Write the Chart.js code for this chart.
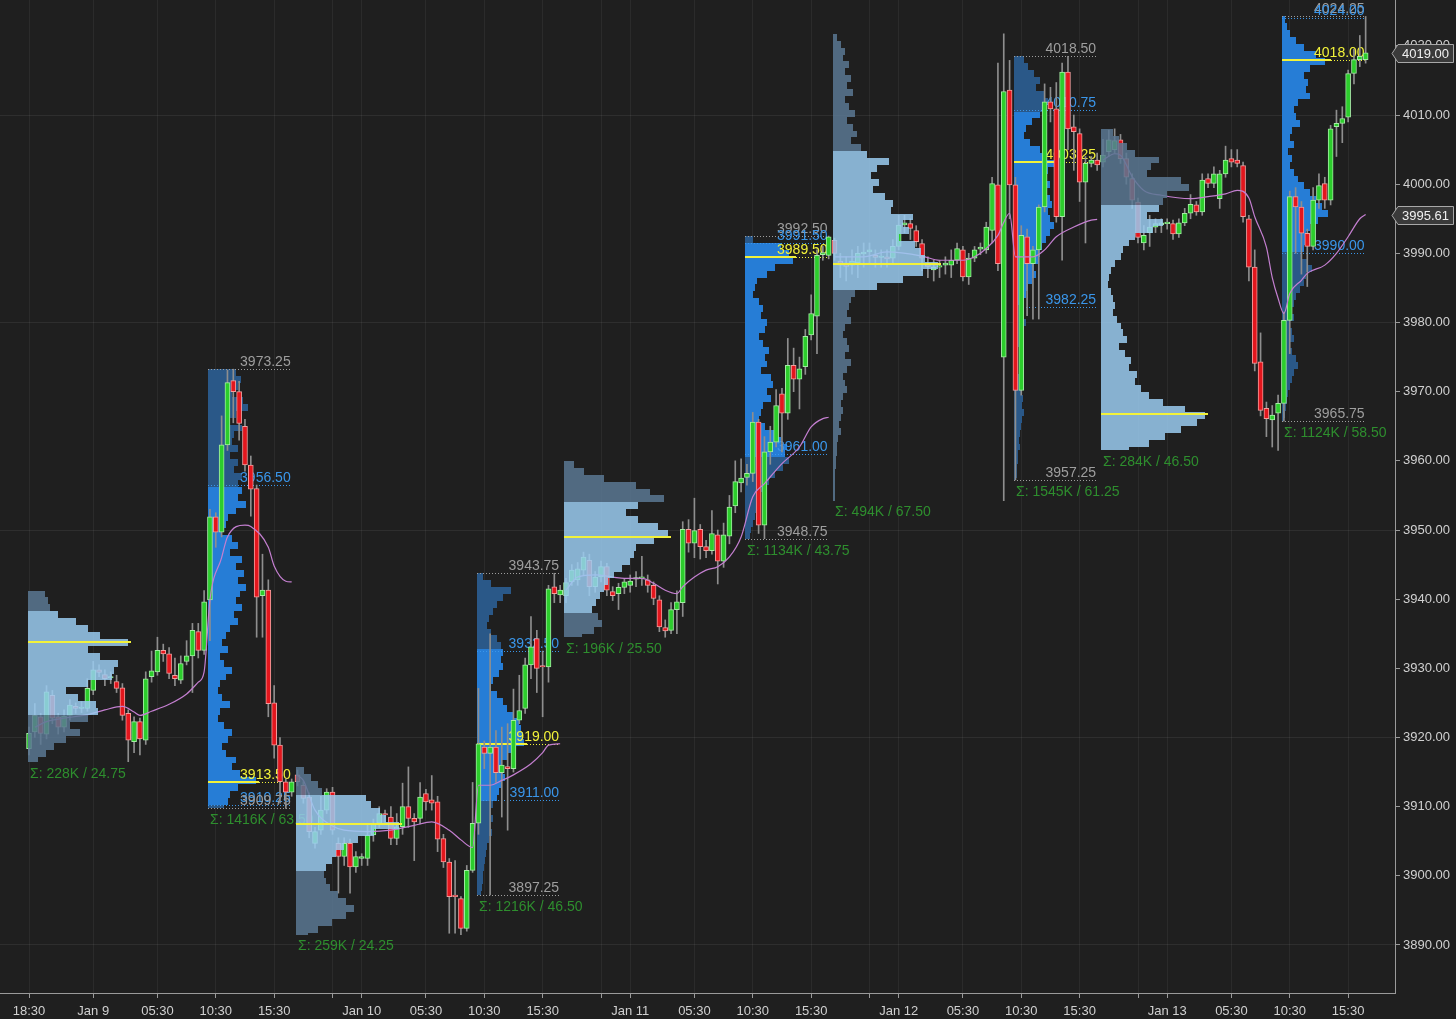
<!DOCTYPE html>
<html>
<head>
<meta charset="utf-8">
<title>ES 30m with volume profiles</title>
<script src="https://cdn.jsdelivr.net/npm/chart.js@4.4.1/dist/chart.umd.min.js"></script>
<style>
  html, body { margin: 0; padding: 0; background: #1f1f1f; }
  #wrap { width: 1456px; height: 1019px; }
</style>
</head>
<body>
<div id="wrap"><canvas id="priceChart"></canvas></div>
<script>
'use strict'
// 30 minute bars, 46 per session (bar 0 = 18:30 ... bar 45 = 17:00)
var opens = [
  3918.4,3920.8,3923.0,3920.5,3926.1,3923.0,3921.5,3923.2,3924.5,3924.2,3924.2,3926.8,3929.8,3929.1,3928.6,3928.1,3927.2,3923.5,3919.4,3922.3,3919.6,3928.8,3929.5,3932.6,3932.1,3929.0,3928.3,3931.0,3931.8,3935.3,3932.6,3939.9,3951.9,3949.7,3962.3,3971.6,3970.0,3965.0,3959.4,3956.0,3940.5,3941.3,3925.0,3918.9,3913.6,3912.1,
  3914.6,3913.1,3911.4,3904.7,3906.6,3909.5,3912.1,3904.7,3902.8,3904.7,3901.3,3902.5,3902.5,3905.9,3907.6,3909.0,3908.5,3905.4,3907.1,3910.0,3908.3,3908.3,3911.9,3911.0,3910.7,3905.4,3902.0,3897.2,3896.7,3892.4,3900.8,3907.6,3918.6,3917.7,3918.6,3914.9,3915.8,3915.5,3922.5,3924.2,3930.5,3934.3,3930.3,3930.2,3941.8,3940.6,
  3940.5,3942.5,3942.8,3944.2,3945.6,3941.8,3943.2,3944.7,3941.1,3940.8,3941.7,3942.0,3942.9,3943.0,3942.8,3942.0,3939.9,3935.9,3935.5,3938.5,3939.5,3950.1,3948.1,3950.1,3947.6,3947.0,3949.3,3945.5,3949.1,3953.5,3956.8,3957.6,3958.2,3965.6,3950.7,3961.3,3962.7,3969.7,3966.9,3973.8,3971.8,3973.6,3978.2,3980.9,3989.8,3989.7,
  3991.9,3988.9,3988.6,3988.3,3988.6,3989.9,3990.2,3989.7,3989.4,3989.5,3989.3,3991.0,3994.1,3994.3,3993.3,3991.4,3988.4,3987.6,3988.0,3988.3,3988.3,3989.0,3990.5,3986.6,3989.3,3990.6,3990.5,3993.3,3999.9,3975.0,4013.6,3999.9,3970.2,3992.4,3988.5,3990.5,3996.7,4011.9,4010.9,3995.3,4016.2,4008.3,4007.3,4000.3,4003.0,4003.5,
  4003.2,4004.7,4005.0,4006.4,4003.7,4000.8,3997.4,3991.5,3993.0,3993.8,3994.1,3994.3,3994.3,3992.8,3994.4,3995.8,3997.0,3996.0,4000.8,4000.1,3997.9,4001.5,4003.7,4003.5,4002.7,3995.0,3988.0,3974.3,3967.6,3965.9,3966.9,3968.3,3980.3,3998.2,3996.7,3992.9,3991.0,3997.7,4000.1,3997.7,4008.3,4008.8,4009.7,4016.0,4018.0,4018.0
];
var highs = [
  3921.5,3924.9,3923.5,3927.5,3926.8,3923.5,3924.0,3925.5,3925.0,3925.2,3928.5,3931.0,3930.5,3929.8,3929.5,3929.0,3927.8,3924.0,3923.0,3922.8,3929.5,3932.5,3934.5,3933.5,3933.0,3931.5,3931.8,3934.0,3936.5,3936.5,3941.25,3953.0,3952.5,3966.5,3973.1,3973.25,3971.5,3966.0,3960.7,3956.5,3946.5,3942.8,3927.5,3920.0,3914.0,3914.0,
  3915.3,3913.6,3912.0,3907.0,3911.5,3912.6,3912.8,3905.5,3905.5,3905.3,3903.5,3903.2,3907.5,3908.2,3910.0,3909.5,3910.0,3909.0,3913.4,3915.75,3909.0,3913.5,3912.5,3914.5,3911.5,3906.0,3902.5,3902.2,3897.0,3901.5,3913.5,3927.1,3919.5,3935.0,3921.0,3921.5,3922.0,3927.0,3929.0,3931.5,3937.5,3935.5,3932.5,3942.0,3943.75,3942.0,
  3943.0,3945.0,3945.3,3946.8,3946.5,3944.0,3945.5,3945.2,3941.8,3942.3,3943.0,3943.5,3944.0,3946.2,3943.5,3942.5,3940.5,3937.0,3939.5,3941.2,3951.2,3951.5,3954.6,3950.8,3948.5,3952.8,3950.0,3951.0,3955.0,3960.0,3960.3,3959.5,3967.0,3966.0,3963.5,3965.0,3970.3,3970.5,3977.7,3976.3,3975.0,3979.0,3984.0,3990.5,3991.0,3992.5,
  3992.2,3990.0,3989.5,3990.5,3991.0,3991.5,3991.5,3990.5,3990.5,3990.5,3992.0,3995.5,3995.5,3995.0,3994.0,3992.0,3989.5,3989.0,3989.0,3989.5,3990.5,3991.5,3991.0,3990.0,3991.0,3991.5,3994.5,4001.0,4017.5,4021.75,4017.9,4001.0,3994.0,3993.5,3991.0,3997.0,4014.5,4014.0,4014.7,4017.5,4018.5,4010.0,4008.0,4004.0,4004.0,4004.5,
  4006.5,4007.8,4008.0,4007.2,4004.5,4001.5,3998.0,3994.0,3995.5,3995.0,3995.0,3995.0,3994.8,3995.0,3996.5,3998.5,3997.5,4001.5,4001.5,4002.5,4002.0,4005.5,4005.0,4005.0,4003.2,3995.5,3990.5,3978.5,3968.5,3968.0,3969.5,3981.5,3999.0,3999.5,3997.5,3993.5,3999.5,4001.5,4001.0,4008.5,4010.7,4011.2,4016.5,4019.5,4021.5,4024.25
];
var lows = [
  3917.5,3920.0,3919.0,3919.8,3922.0,3920.5,3920.8,3922.5,3923.5,3923.6,3923.8,3926.2,3928.8,3927.5,3927.8,3926.5,3922.5,3916.5,3917.8,3917.5,3919.0,3928.0,3929.0,3931.0,3928.5,3927.5,3927.8,3930.5,3926.5,3931.5,3932.0,3934.0,3947.5,3949.0,3961.5,3965.5,3963.0,3958.5,3952.0,3934.5,3934.5,3923.0,3917.0,3910.5,3909.75,3911.5,
  3913.0,3910.5,3905.5,3904.0,3906.0,3909.0,3906.0,3897.5,3901.5,3897.5,3900.5,3901.5,3901.5,3905.0,3907.0,3907.5,3904.5,3904.5,3906.0,3907.0,3902.2,3907.5,3909.5,3909.5,3903.5,3901.2,3891.7,3891.7,3891.5,3892.0,3900.5,3906.0,3915.5,3897.25,3913.5,3908.5,3906.6,3915.0,3922.0,3923.5,3928.5,3926.5,3923.0,3928.0,3939.5,3939.5,
  3939.5,3942.0,3942.0,3943.5,3940.5,3941.0,3942.5,3940.5,3939.8,3938.5,3940.8,3941.0,3941.8,3942.0,3941.0,3939.2,3935.3,3934.5,3935.0,3935.0,3937.5,3946.8,3946.0,3945.8,3946.0,3946.5,3942.2,3944.6,3948.0,3952.5,3955.5,3956.5,3957.0,3949.5,3948.75,3959.5,3962.0,3961.3,3966.0,3970.0,3967.5,3972.5,3977.5,3975.5,3989.0,3989.2,
  3989.0,3986.5,3986.0,3987.0,3986.5,3988.0,3988.5,3988.0,3988.0,3988.0,3988.5,3990.5,3993.0,3992.0,3991.0,3987.5,3986.5,3986.0,3986.5,3987.0,3986.5,3988.5,3986.0,3985.5,3988.8,3989.8,3990.0,3991.5,3987.5,3954.25,3995.0,3957.25,3969.5,3981.0,3980.5,3980.5,3996.0,4009.0,3994.5,3989.0,4005.0,4002.0,3997.5,3991.5,4002.5,4002.0,
  4002.5,4004.0,4004.5,4003.0,4000.0,3996.5,3991.5,3990.5,3991.0,3993.0,3993.0,3993.5,3992.0,3992.3,3994.0,3995.0,3995.5,3995.5,3999.5,3999.5,3996.5,4001.0,4002.5,4002.5,3994.5,3986.0,3973.0,3966.5,3963.5,3962.0,3961.5,3965.75,3975.5,3990.0,3987.0,3985.2,3990.5,3996.5,3996.5,3997.0,4004.0,4006.0,4009.0,4014.5,4017.0,4017.5
];
var closes = [
  3920.6,3923.2,3920.6,3926.6,3922.8,3921.5,3923.1,3924.7,3924.2,3924.4,3927.1,3929.8,3929.4,3928.5,3928.8,3927.1,3923.2,3919.6,3922.3,3919.8,3928.5,3929.65,3932.6,3932.1,3929.25,3928.5,3930.7,3931.8,3935.5,3932.6,3939.6,3951.9,3949.7,3962.3,3971.3,3970.0,3965.4,3959.4,3955.9,3940.3,3941.3,3924.9,3918.9,3913.6,3912.1,3913.6,
  3913.6,3911.2,3906.4,3906.4,3909.5,3912.1,3906.6,3902.8,3904.7,3901.3,3902.8,3902.8,3905.9,3907.6,3909.0,3908.8,3905.4,3907.1,3910.0,3908.3,3907.8,3911.4,3910.7,3910.5,3905.3,3902.0,3897.0,3897.0,3892.4,3900.8,3907.6,3919.1,3917.7,3918.6,3914.9,3916.0,3915.5,3922.5,3923.9,3930.5,3933.1,3930.0,3930.2,3941.5,3940.8,3941.3,
  3942.4,3944.2,3944.4,3946.1,3941.8,3943.2,3944.7,3941.3,3940.5,3941.7,3942.5,3942.6,3943.1,3943.2,3942.0,3940.1,3936.0,3935.4,3938.5,3939.6,3950.1,3948.1,3949.9,3947.6,3947.0,3949.5,3945.5,3949.3,3953.3,3957.0,3957.5,3958.2,3965.6,3950.7,3961.3,3962.7,3968.0,3966.9,3973.8,3971.8,3973.3,3978.0,3981.3,3989.7,3990.1,3992.4,
  3990.0,3988.3,3988.1,3988.9,3990.0,3990.2,3990.5,3989.4,3989.6,3989.2,3991.0,3994.1,3994.4,3993.6,3991.7,3989.3,3988.1,3988.0,3988.2,3988.6,3989.0,3990.7,3986.6,3989.3,3990.5,3990.9,3993.8,4000.1,3988.5,4013.4,3999.9,3970.2,3992.6,3988.5,3990.5,3996.7,4011.9,4010.9,3995.3,4016.2,4008.0,4007.6,4000.3,4003.0,4003.5,4002.8,
  4004.2,4006.4,4006.3,4003.7,4001.0,3997.7,3992.3,3992.6,3993.8,3994.3,3994.4,3994.3,3992.8,3994.4,3995.8,3997.1,3996.0,4000.6,4000.1,4001.5,4001.5,4003.5,4003.2,4003.0,3995.3,3988.0,3974.1,3967.3,3966.1,3966.6,3968.3,3980.3,3998.2,3996.7,3992.9,3991.0,3997.7,3999.8,3997.7,4008.0,4008.8,4009.5,4016.0,4018.0,4018.5,4019.0
];

// session VWAP line (pink), null = break between sessions
var vwapBars = [1,3,6,10,13,16,18,19,21,24,27,29,30,31,33,34,37,38,41,42,44,45, 45.5,
  46,47,49,52,54,58,62,66,69,72,74,76,77,79,81,83,86,88,89,91, 91.5,
  92,94,97,100,102,105,107,109,111,112,114,116,118,120,122,124,126,129,132,134,136,137, 137.5,
  138,143,147,153,156,160,162,164,166,167,168,169,172,174,176,179,182,183, 183.5,
  184,186,187,189,191,194,199,202,205,207,209,210,212,213,214,215,216,218,219,222,224,226,228,229];
var vwapValues = [3921.5,3922.3,3922.8,3923.3,3924.0,3924.5,3923.7,3923.2,3923.8,3924.8,3926.3,3928.0,3929.5,3939.9,3946.0,3949.0,3950.7,3950.5,3947.5,3944.8,3942.6,3942.5, null,
  3914.5,3913.8,3909.5,3907.2,3906.6,3906.4,3906.6,3907.3,3907.8,3906.6,3905.2,3904.1,3913.1,3913.1,3913.8,3914.6,3916.2,3917.8,3918.9,3919.1, null,
  3941.3,3943.2,3943.5,3943.2,3943.0,3943.0,3942.3,3941.3,3940.8,3941.8,3943.2,3944.2,3944.7,3946.1,3949.0,3954.8,3956.7,3959.6,3962.0,3964.9,3966.1,3966.3, null,
  3989.5,3989.5,3990.2,3989.6,3989.0,3989.0,3989.5,3990.7,3992.6,3994.5,3995.8,3989.5,3989.5,3990.5,3992.4,3993.8,3994.8,3994.9, null,
  4003.5,4004.4,4004.2,4001.1,3999.1,3998.4,3997.9,3998.2,3998.6,3999.1,3998.0,3995.3,3990.9,3986.5,3983.5,3981.3,3984.2,3986.1,3987.1,3988.3,3990.0,3992.4,3995.0,3995.61];

// axis ticks
var xTickBars = [0, 11, 22, 32, 42, 52, 57, 68, 78, 88, 98, 103, 114, 124, 134, 144, 149, 160, 170, 180, 190, 195, 206, 216, 226];
var xTickLabels = ['18:30','Jan 9','05:30','10:30','15:30','','Jan 10','05:30','10:30','15:30','','Jan 11','05:30','10:30','15:30','','Jan 12','05:30','10:30','15:30','','Jan 13','05:30','10:30','15:30'];
var priceTicks = [3890, 3900, 3910, 3920, 3930, 3940, 3950, 3960, 3970, 3980, 3990, 4000, 4010, 4020];

// volume profiles: overnight (ETH) and day (RTH) for each session
var profStart = [0, 31, 46, 77, 92, 123, 138, 169, 184, 215];
var profEnd   = [30, 45, 76, 91, 122, 137, 168, 183, 214, 229];
var profRth   = [false, true, false, true, false, true, false, true, false, true];
var profHigh  = [3941.25, 3973.25, 3915.75, 3943.75, 3960.00, 3992.50, 4021.75, 4018.50, 4008.00, 4024.25];
var profLow   = [3916.50, 3909.75, 3891.50, 3897.25, 3934.50, 3948.75, 3954.25, 3957.25, 3961.50, 3965.75];
var profVah   = [3938.00, 3956.50, 3912.00, 3932.50, 3953.50, 3991.50, 4005.00, 4010.75, 3997.25, 4024.00];
var profPoc   = [3933.75, 3913.50, 3907.50, 3919.00, 3949.00, 3989.50, 3988.50, 4003.25, 3966.75, 4018.00];
var profVal   = [3923.50, 3910.25, 3900.50, 3911.00, 3938.00, 3961.00, 3984.75, 3982.25, 3961.50, 3990.00];
var profVolK  = [228, 1416, 259, 1216, 196, 1134, 494, 1545, 284, 1124];
// relative volume per 1-point row, from the high downwards
var profVol = [
  [17,20,22,30,48,60,72,100,60,72,90,86,84,60,38,50,68,70,60,42,52,38,26,18,10],
  [28,33,30,24,35,40,28,22,34,26,24,30,22,30,26,34,30,34,30,38,28,20,18,14,24,30,22,34,28,36,30,38,32,28,34,26,30,22,18,14,20,12,16,24,18,12,10,14,22,12,10,16,24,20,14,18,28,24,32,48,30,22,20,16],
  [8,15,22,26,70,75,84,90,103,78,62,48,40,36,30,28,30,34,42,50,58,50,36,22,12],
  [6,14,34,26,20,16,12,10,14,20,24,26,24,26,22,16,14,20,26,30,36,42,44,46,47,36,30,24,26,28,24,22,20,16,14,16,13,15,12,10,9,8,7,6,6,5,4],
  [10,20,40,72,86,100,74,62,74,94,104,90,72,70,66,58,50,44,40,36,32,28,34,38,30,18],
  [8,36,44,48,30,22,12,10,8,14,18,16,22,20,14,18,24,20,22,16,26,28,22,26,18,16,14,20,30,36,42,40,44,38,30,24,18,16,12,14,10,8,6,5],
  [4,8,12,10,16,12,18,14,20,12,16,22,14,20,24,18,28,34,56,44,38,46,40,52,60,58,80,70,76,66,82,88,92,105,90,70,44,22,18,16,14,18,12,10,14,16,12,18,14,10,12,14,10,8,10,8,6,8,5,4,4,3,3,2,2,2,2,2],
  [10,14,20,26,22,30,34,32,26,18,12,10,16,26,32,40,34,30,36,32,36,38,34,36,40,36,32,28,26,24,20,22,18,14,12,10,8,10,12,8,6,5,4,4,3,4,6,5,7,9,8,10,8,7,6,5,6,4,4,3,3,2],
  [12,18,26,34,58,50,46,80,88,66,62,58,46,62,52,34,28,22,20,14,10,8,7,10,12,14,12,16,20,22,26,18,24,30,28,36,34,40,48,62,84,104,96,80,64,48,28],
  [3,5,8,14,22,34,43,28,22,26,24,28,16,12,14,18,10,8,12,6,10,8,12,16,22,28,34,40,46,36,28,24,26,22,20,26,30,24,22,18,14,12,10,12,8,10,12,8,10,14,16,12,10,8,6,5,4,3,2]
];

var volPx = 1;
var labelFont = '14px "Liberation Sans", Arial, sans-serif';
var gray = '#9e9e9e', blue = '#3a96ea', yellow = '#f2f23a', green = '#2e8e2e';

function dottedLine(ctx, x1, x2, y, color) {
    ctx.save();
    ctx.strokeStyle = color;
    ctx.lineWidth = 1;
    ctx.setLineDash([1, 2]);
    ctx.beginPath();
    ctx.moveTo(x1, Math.round(y) + 0.5);
    ctx.lineTo(x2, Math.round(y) + 0.5);
    ctx.stroke();
    ctx.restore();
}

function rightLabel(ctx, text, xRight, y, color) {
    ctx.fillStyle = color;
    ctx.textAlign = 'right';
    ctx.textBaseline = 'alphabetic';
    ctx.fillText(text, xRight, Math.round(y) - 3);
}

function drawProfiles(chart, rth) {
    var ctx = chart.ctx, xs = chart.scales.x, ys = chart.scales.y;
    ctx.save();
    ctx.font = labelFont;
    for (var k = 0; k < profStart.length; k++) {
        if (profRth[k] !== rth) continue;
        var x0 = Math.round(xs.getPixelForValue(profStart[k]) - 1.5);
        var xEnd = xs.getPixelForValue(profEnd[k]) - 1;
        var rows = profVol[k];
        ctx.save();
        ctx.globalAlpha = rth ? 1 : 0.85;
        for (var r = 0; r < rows.length; r++) {
            var top = profHigh[k] - r;
            var bot = Math.max(top - 1, profLow[k]);
            var mid = top - 0.5;
            var inVA = mid <= profVah[k] && mid >= profVal[k];
            if (rth) ctx.fillStyle = inVA ? '#267dd6' : '#2a5888';
            else ctx.fillStyle = inVA ? '#9acbf0' : '#5a7893';
            var yT = Math.round(ys.getPixelForValue(top)), yB = Math.round(ys.getPixelForValue(bot));
            ctx.fillRect(x0, yT, Math.round(rows[r] * volPx), yB - yT);
        }
        ctx.restore();

        var pocW = Math.max.apply(null, rows) * volPx + 3;
        var yPoc = ys.getPixelForValue(profPoc[k]);
        ctx.fillStyle = yellow;
        ctx.fillRect(x0, Math.round(yPoc) - 1, pocW, 2);

        if (rth) {
            var yHi = ys.getPixelForValue(profHigh[k]);
            var yLo = ys.getPixelForValue(profLow[k]);
            var yVah = ys.getPixelForValue(profVah[k]);
            var yVal = ys.getPixelForValue(profVal[k]);
            dottedLine(ctx, x0, xEnd, yHi, gray);
            dottedLine(ctx, x0, xEnd, yLo, gray);
            dottedLine(ctx, x0, xEnd, yVah, blue);
            dottedLine(ctx, x0, xEnd, yVal, blue);
            dottedLine(ctx, x0 + pocW, xEnd, yPoc, yellow);
            rightLabel(ctx, profHigh[k].toFixed(2), xEnd, yHi, gray);
            rightLabel(ctx, profVah[k].toFixed(2), xEnd, yVah, blue);
            rightLabel(ctx, profPoc[k].toFixed(2), xEnd, yPoc, yellow);
            rightLabel(ctx, profVal[k].toFixed(2), xEnd, yVal, blue);
            rightLabel(ctx, profLow[k].toFixed(2), xEnd, yLo, gray);
        }
        ctx.fillStyle = green;
        ctx.textAlign = 'left';
        ctx.textBaseline = 'middle';
        ctx.fillText('\u03A3: ' + profVolK[k] + 'K / ' + (profHigh[k] - profLow[k]).toFixed(2),
            x0 + 2, ys.getPixelForValue(profLow[k]) + 12);
    }
    ctx.restore();
}

function priceTag(chart, value) {
    var ctx = chart.ctx, ys = chart.scales.y, right = chart.chartArea.right;
    var y = Math.round(ys.getPixelForValue(value)) + 0.5, h = 18, xl = right + 3, xr = 1453.5;
    ctx.save();
    ctx.beginPath();
    ctx.moveTo(right - 3, y);
    ctx.lineTo(xl, y - h / 2);
    ctx.lineTo(xr, y - h / 2);
    ctx.lineTo(xr, y + h / 2);
    ctx.lineTo(xl, y + h / 2);
    ctx.closePath();
    ctx.fillStyle = '#3a3a3a';
    ctx.fill();
    ctx.strokeStyle = '#a8a8a8';
    ctx.lineWidth = 1;
    ctx.stroke();
    ctx.fillStyle = '#f0f0f0';
    ctx.font = '13px "Liberation Sans", Arial, sans-serif';
    ctx.textAlign = 'left';
    ctx.textBaseline = 'middle';
    ctx.fillText(value.toFixed(2), xl + 4, y + 1);
    ctx.restore();
}

var profilePlugin = {
    id: 'profiles',
    beforeDraw: function(chart) {
        var ctx = chart.ctx;
        ctx.save();
        ctx.fillStyle = '#1f1f1f';
        ctx.fillRect(0, 0, chart.width, chart.height);
        ctx.restore();
    },
    beforeDatasetsDraw: function(chart) { drawProfiles(chart, true); },
    afterDatasetsDraw: function(chart) { drawProfiles(chart, false); },
    afterDraw: function(chart) {
        priceTag(chart, closes[closes.length - 1]);
        priceTag(chart, vwapValues[vwapValues.length - 1]);
    }
};

var bodies = [], wicks = [], vwapPoints = [];
for (var i = 0; i < opens.length; i++) {
    bodies.push({ x: i, y: [opens[i], closes[i]] });
    wicks.push({ x: i, y: [lows[i], highs[i]] });
}
for (var j = 0; j < vwapBars.length; j++) {
    vwapPoints.push({ x: vwapBars[j], y: vwapValues[j] });
}

var tickFont = { family: '"Liberation Sans", Arial, sans-serif', size: 13 };

var ctxChart = document.getElementById('priceChart');
var priceChart = new Chart(ctxChart, {
    type: 'bar',
    data: {
        datasets: [{
            type: 'line',
            data: vwapPoints,
            borderColor: '#c47fd0',
            borderWidth: 1.2,
            pointRadius: 0,
            cubicInterpolationMode: 'monotone',
            spanGaps: false
        }, {
            type: 'bar',
            data: bodies,
            grouped: false,
            barThickness: 5,
            minBarLength: 1.5,
            borderWidth: 1,
            borderSkipped: false,
            backgroundColor: function(c) { return closes[c.dataIndex] >= opens[c.dataIndex] ? '#2ccd2c' : '#e3161d'; },
            borderColor: function(c) { return closes[c.dataIndex] >= opens[c.dataIndex] ? '#a4eca4' : '#f39c9c'; }
        }, {
            type: 'bar',
            data: wicks,
            grouped: false,
            barThickness: 1,
            backgroundColor: '#8e8e8e'
        }]
    },
    options: {
        responsive: true,
        maintainAspectRatio: false,
        devicePixelRatio: 1,
        animation: false,
        events: [],
        layout: { padding: 0 },
        plugins: { legend: { display: false }, tooltip: { enabled: false } },
        scales: {
            x: {
                type: 'linear',
                min: -4.97,
                max: 234.03,
                offset: false,
                afterBuildTicks: function(s) { s.ticks = xTickBars.map(function(v) { return { value: v }; }); },
                afterFit: function(s) { s.height = 26; s.paddingLeft = 0; s.paddingRight = 0; },
                ticks: {
                    autoSkip: false,
                    maxRotation: 0,
                    padding: 6,
                    color: '#d0d0d0',
                    font: tickFont,
                    callback: function(v, idx) { return xTickLabels[idx]; }
                },
                grid: { color: 'rgba(255,255,255,0.055)', tickColor: '#9a9a9a', tickLength: 5, offset: false },
                border: { color: '#9a9a9a' }
            },
            y: {
                type: 'linear',
                position: 'right',
                min: 3883.06,
                max: 4026.63,
                afterBuildTicks: function(s) { s.ticks = priceTicks.map(function(v) { return { value: v }; }); },
                afterFit: function(s) { s.width = 61; s.paddingTop = 0; s.paddingBottom = 0; },
                ticks: {
                    padding: 3,
                    color: '#d0d0d0',
                    font: tickFont,
                    callback: function(v) { return Number(v).toFixed(2); }
                },
                grid: {
                    color: function(c) { return c.tick && Math.round(c.tick.value) % 30 === 20 ? 'rgba(255,255,255,0.07)' : 'rgba(0,0,0,0)'; },
                    tickColor: '#9a9a9a',
                    tickLength: 5
                },
                border: { color: '#9a9a9a' }
            }
        }
    },
    plugins: [profilePlugin]
});
</script>
</body>
</html>
